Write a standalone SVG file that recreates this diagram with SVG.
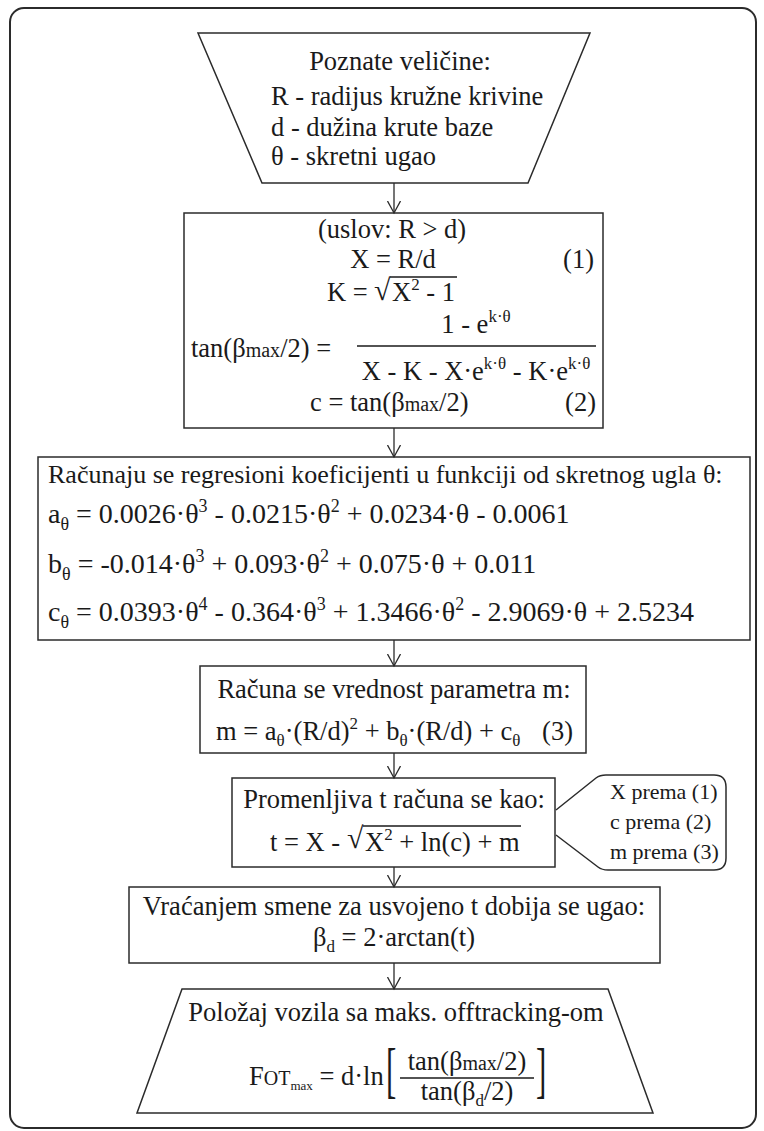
<svg xmlns="http://www.w3.org/2000/svg" width="764" height="1131" viewBox="0 0 764 1131">
<style>
svg{font-family:"Liberation Serif","Times New Roman",serif;font-size:26.5px}
text{fill:#1a1a1a}
.eq{font-size:28px}
.sm{font-size:22px}
.shape{fill:#fff;stroke:#2b2b2b;stroke-width:1.5}
.conn{stroke:#2b2b2b;stroke-width:1.3;fill:none}
.rule{stroke:#1a1a1a;stroke-width:1.3}
</style>
<defs>
<marker id="arr" markerWidth="14" markerHeight="14" refX="12" refY="7" orient="auto" markerUnits="userSpaceOnUse">
<path d="M0,0.5 L12,7 L0,13.5" fill="none" stroke="#2b2b2b" stroke-width="1.3"/>
</marker>
</defs>
<rect x="0" y="0" width="764" height="1131" fill="#fff"/>
<rect x="10" y="8" width="746" height="1120" rx="14" fill="none" stroke="#2b2b2b" stroke-width="2"/>

<g id="input">
<polygon class="shape" points="198,33 590,33 528,183 262,183"/>
<text x="400" y="70" text-anchor="middle">Poznate veličine:</text>
<text x="271" y="105">R - radijus kružne krivine</text>
<text x="271" y="136">d - dužina krute baze</text>
<text x="271" y="165">θ - skretni ugao</text>
</g>

<g id="box2">
<rect class="shape" x="184" y="213" width="419" height="215"/>
<text x="392" y="238" text-anchor="middle">(uslov: R &gt; d)</text>
<text x="393" y="268" text-anchor="middle">X = R/d</text>
<text x="594" y="268" text-anchor="end">(1)</text>
<text x="327" y="301">K = </text>
<text x="374" y="300" font-size="30">√</text>
<text x="392" y="301">X<tspan font-size="17" dy="-11">2</tspan><tspan dy="11"> - 1</tspan></text>
<line class="rule" x1="390" y1="277" x2="457" y2="277"/>
<text x="476" y="333" text-anchor="middle">1 - e<tspan font-size="17" dy="-11">k·θ</tspan></text>
<line class="rule" x1="357" y1="346" x2="596" y2="346"/>
<text x="191" y="357">tan(β<tspan font-size="20">max</tspan>/2) = </text>
<text x="476" y="380" text-anchor="middle">X - K - X·e<tspan font-size="17" dy="-11">k·θ</tspan><tspan dy="11"> - K·e</tspan><tspan font-size="17" dy="-11">k·θ</tspan></text>
<text x="310" y="411">c = tan(β<tspan font-size="20">max</tspan>/2)</text>
<text x="596" y="411" text-anchor="end">(2)</text>
</g>

<g id="box3">
<rect class="shape" x="38" y="457" width="712" height="183"/>
<text x="48" y="483" font-size="26">Računaju se regresioni koeficijenti u funkciji od skretnog ugla θ:</text>
<text class="eq" x="48" y="523">a<tspan font-size="18" dy="7">θ</tspan><tspan dy="-7"> = 0.0026·θ</tspan><tspan font-size="18" dy="-11">3</tspan><tspan dy="11"> - 0.0215·θ</tspan><tspan font-size="18" dy="-11">2</tspan><tspan dy="11"> + 0.0234·θ - 0.0061</tspan></text>
<text class="eq" x="48" y="573">b<tspan font-size="18" dy="7">θ</tspan><tspan dy="-7"> = -0.014·θ</tspan><tspan font-size="18" dy="-11">3</tspan><tspan dy="11"> + 0.093·θ</tspan><tspan font-size="18" dy="-11">2</tspan><tspan dy="11"> + 0.075·θ + 0.011</tspan></text>
<text class="eq" x="48" y="621">c<tspan font-size="18" dy="7">θ</tspan><tspan dy="-7"> = 0.0393·θ</tspan><tspan font-size="18" dy="-11">4</tspan><tspan dy="11"> - 0.364·θ</tspan><tspan font-size="18" dy="-11">3</tspan><tspan dy="11"> + 1.3466·θ</tspan><tspan font-size="18" dy="-11">2</tspan><tspan dy="11"> - 2.9069·θ + 2.5234</tspan></text>
</g>

<g id="box4">
<rect class="shape" x="200" y="666" width="386" height="87"/>
<text x="394" y="698" text-anchor="middle">Računa se vrednost parametra m:</text>
<text x="216" y="740">m = a<tspan font-size="17" dy="6">θ</tspan><tspan dy="-6">·(R/d)</tspan><tspan font-size="17" dy="-11">2</tspan><tspan dy="11"> + b</tspan><tspan font-size="17" dy="6">θ</tspan><tspan dy="-6">·(R/d) + c</tspan><tspan font-size="17" dy="6">θ</tspan></text>
<text x="573" y="740" text-anchor="end">(3)</text>
</g>

<g id="box5">
<rect class="shape" x="232" y="778" width="323" height="89"/>
<text x="394" y="808" text-anchor="middle">Promenljiva t računa se kao:</text>
<text x="270" y="851">t = X - </text>
<text x="347" y="848" font-size="30">√</text>
<text x="365" y="851">X<tspan font-size="17" dy="-11">2</tspan><tspan dy="11"> + ln(c) + m</tspan></text>
<line class="rule" x1="363" y1="826" x2="521" y2="826"/>
</g>

<g id="note">
<path class="shape" d="M556,810 L596,778 Q600,775 606,775 L714,775 Q726,775 726,787 L726,858 Q726,870 714,870 L608,870 Q602,870 598,867 L556,835"/>
<text class="sm" x="610" y="799">X prema (1)</text>
<text class="sm" x="610" y="829">c prema (2)</text>
<text class="sm" x="610" y="859">m prema (3)</text>
</g>

<g id="box6">
<rect class="shape" x="129" y="887" width="531" height="76"/>
<text x="394" y="915" text-anchor="middle">Vraćanjem smene za usvojeno t dobija se ugao:</text>
<text x="394" y="946" text-anchor="middle">β<tspan font-size="17" dy="6">d</tspan><tspan dy="-6"> = 2·arctan(t)</tspan></text>
</g>

<g id="output">
<polygon class="shape" points="182,989 608,989 653,1113 137,1113"/>
<text x="396" y="1021" text-anchor="middle">Položaj vozila sa maks. offtracking-om</text>
<text x="249" y="1085">F<tspan font-size="20">OT</tspan><tspan font-size="13" dy="5">max</tspan><tspan dy="-5"> = d·ln</tspan></text>
<text transform="translate(386,1091) scale(0.5,1)" font-size="62">[</text>
<text x="467" y="1070" text-anchor="middle">tan(β<tspan font-size="20">max</tspan>/2)</text>
<line class="rule" x1="400" y1="1078" x2="534" y2="1078"/>
<text x="467" y="1100" text-anchor="middle">tan(β<tspan font-size="17" dy="6">d</tspan><tspan dy="-6">/2)</tspan></text>
<text transform="translate(536,1091) scale(0.5,1)" font-size="62">]</text>
</g>

<g id="connectors">
<line class="conn" x1="394" y1="183" x2="394" y2="213" marker-end="url(#arr)"/>
<line class="conn" x1="394" y1="428" x2="394" y2="457" marker-end="url(#arr)"/>
<line class="conn" x1="394" y1="640" x2="394" y2="666" marker-end="url(#arr)"/>
<line class="conn" x1="394" y1="753" x2="394" y2="778" marker-end="url(#arr)"/>
<line class="conn" x1="394" y1="867" x2="394" y2="887" marker-end="url(#arr)"/>
<line class="conn" x1="394" y1="963" x2="394" y2="989" marker-end="url(#arr)"/>
</g>
</svg>
